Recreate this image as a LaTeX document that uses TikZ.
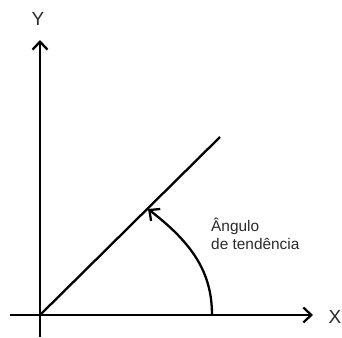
\documentclass[tikz,border=0pt]{standalone}
\usepackage{fontspec}
\setmainfont{Liberation Sans}
\usetikzlibrary{arrows.meta}
\definecolor{txtc}{HTML}{2A2A2A}
\begin{document}
\begin{tikzpicture}[x=1pt,y=-1pt,
  axis/.style={line width=2.3pt, -{Straight Barb[length=8pt,width=15pt,line width=2.3pt]}},
  ln/.style={line width=2.3pt},
  lbl/.style={inner sep=0pt, text=txtc, font=\fontsize{19}{20}\selectfont},
  txt/.style={inner sep=0pt, text=txtc, align=left, font=\fontsize{15.4}{18}\selectfont, anchor=north west}]
\useasboundingbox (0,0) rectangle (342,337);
\coordinate (o) at (40,315);
\coordinate (xs) at (10,315);
\coordinate (xe) at (313,315);
\coordinate (ys) at (40,337);
\coordinate (ye) at (40,40);
\coordinate (d) at (220,137);
\coordinate (a0) at (212,315);
\coordinate (a1) at (148,209);
\draw[axis] (xs) -- (xe);
\draw[axis] (ys) -- (ye);
\draw[ln] (o) -- (d);
\draw[axis] (a0) .. controls (212,272) and (192,243) .. (a1);
\node[lbl] (ly) at (38,19) {Y};
\node[lbl] (lx) at (335,317) {X};
\node[txt] (t) at (211,218) {Ângulo\\de tendência};
\end{tikzpicture}
\end{document}
